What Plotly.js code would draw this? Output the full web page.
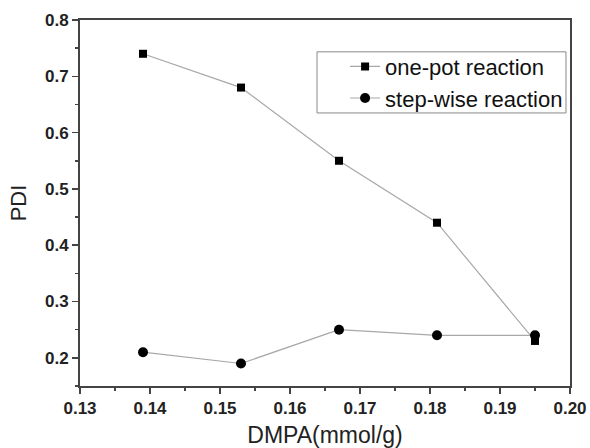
<!DOCTYPE html>
<html><head><meta charset="utf-8">
<script src="https://cdn.plot.ly/plotly-3.0.1.min.js"></script>
<style>html,body{margin:0;padding:0;background:#fff}</style>
</head><body>
<div id="chart" style="width:590px;height:448px"></div>
<script>
const dmpa = [0.139, 0.153, 0.167, 0.181, 0.195];
const onePot = [0.74, 0.68, 0.55, 0.44, 0.23];
const stepWise = [0.21, 0.19, 0.25, 0.24, 0.24];
const seriesNames = ['one-pot reaction', 'step-wise reaction'];

const FAM = 'Liberation Sans, Arial, sans-serif';
const traces = [
  {x: dmpa, y: onePot, name: seriesNames[0], mode: 'lines+markers', type: 'scatter',
   line: {color: '#a8a8a8', width: 1.2}, marker: {symbol: 'square', size: 8, color: '#000'}},
  {x: dmpa, y: stepWise, name: seriesNames[1], mode: 'lines+markers', type: 'scatter',
   line: {color: '#a8a8a8', width: 1.2}, marker: {symbol: 'circle', size: 10, color: '#000'}}
];
const axFont = {family: FAM, size: 17, color: '#222', weight: 'bold'};
const layout = {
  width: 590, height: 448,
  margin: {l: 80, r: 20, t: 20, b: 62},
  paper_bgcolor: '#fff', plot_bgcolor: '#fff',
  showlegend: true,
  legend: {x: 0.541, y: 0.93, xanchor: 'left', yanchor: 'top', borderwidth: 0,
           bgcolor: 'rgba(0,0,0,0)', font: {family: FAM, size: 22, color: '#111'},
           tracegroupgap: 0},
  shapes: [{type: 'rect', xref: 'paper', yref: 'paper', x0: 0.4837, x1: 0.9918, y0: 0.746, y1: 0.913,
            line: {color: '#888', width: 1}}],
  xaxis: {range: [0.13, 0.20], dtick: 0.01, tickformat: '.2f', showgrid: false, zeroline: false,
          showline: true, linecolor: '#444', linewidth: 2, mirror: true,
          ticks: 'outside', ticklen: 6, tickwidth: 1.5, tickcolor: '#444',
          minor: {dtick: 0.005, ticks: 'outside', ticklen: 3, tickcolor: '#444', showgrid: false},
          tickfont: axFont,
          title: {text: 'DMPA(mmol/g)', font: {family: FAM, size: 23, color: '#222'}, standoff: 10}},
  yaxis: {range: [0.15, 0.8], dtick: 0.1, tick0: 0.2, tickformat: '.1f', showgrid: false, zeroline: false,
          showline: true, linecolor: '#444', linewidth: 2, mirror: true,
          ticks: 'outside', ticklen: 6, tickwidth: 1.5, tickcolor: '#444',
          minor: {dtick: 0.05, ticks: 'outside', ticklen: 3, tickcolor: '#444', showgrid: false},
          tickfont: axFont,
          title: {text: 'PDI', font: {family: FAM, size: 22, color: '#222'}, standoff: 12}}
};
Plotly.newPlot('chart', traces, layout, {displayModeBar: false, staticPlot: true});
</script>
</body></html>
